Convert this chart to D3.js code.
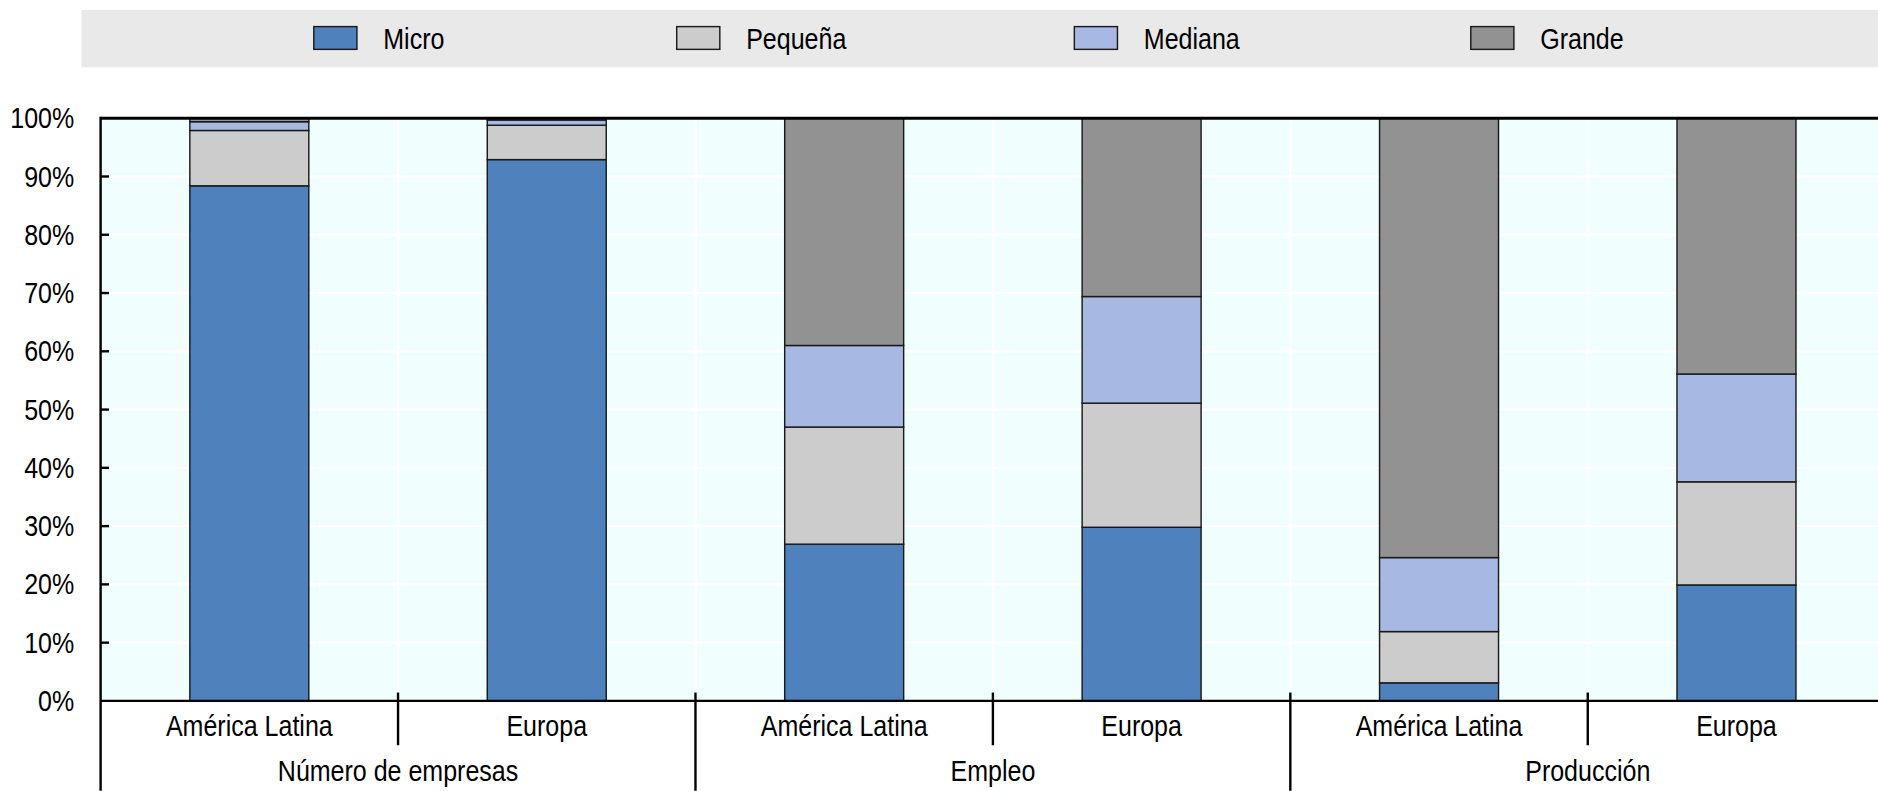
<!DOCTYPE html>
<html>
<head>
<meta charset="utf-8">
<script src="https://cdn.jsdelivr.net/npm/d3@7"></script>
<style>
  body { margin: 0; background: #fff; }
  svg text { font-family: "Liberation Sans", Arial, sans-serif; fill: #000; }
</style>
</head>
<body>
<svg id="chart"></svg>
<script>
// data
const groups = ["Número de empresas", "Empleo", "Producción"];
const regions = ["América Latina", "Europa"];
const sizes = ["Micro", "Pequeña", "Mediana", "Grande"];
const colors = ["#4f81bd", "#cccccc", "#a7b9e3", "#929292"];

// shares (%) per bar, order: group x region
const micro   = [88.4, 92.9, 26.9, 29.8,  3.1, 19.9];
const pequena = [ 9.5,  5.9, 20.1, 21.3,  8.8, 17.7];
const mediana = [ 1.5,  0.9, 14.0, 18.3, 12.7, 18.5];
const grande  = [ 0.6,  0.3, 39.0, 30.6, 75.4, 43.9];
const yTicks = [0, 10, 20, 30, 40, 50, 60, 70, 80, 90, 100];

// layout works in a 1568x660 frame scaled to the window
const W = 1568, H = 660;
const FS = 24, SQUEEZE = 0.87; // narrow-looking font: squeeze regular sans
const svg = d3.select("#chart")
    .attr("width", 1878).attr("height", 791)
    .attr("viewBox", `0 0 ${W} ${H}`);

// place a condensed text label at (px, py)
function label(sel, px, py) {
    return sel.attr("x", 0).attr("y", 0)
        .attr("font-size", FS)
        .attr("transform", (d, i) => `translate(${px(d, i)},${py(d, i)}) scale(${SQUEEZE},1)`);
}

const plot = {left: 84, right: 1574, top: 98.5, bottom: 585};

const bars = [];
groups.forEach((g, gi) => regions.forEach((r, ri) => {
    const i = gi * regions.length + ri;
    bars.push({key: i, group: g, region: r, vals: [micro[i], pequena[i], mediana[i], grande[i]]});
}));

const x = d3.scaleBand()
    .domain(bars.map(d => d.key))
    .range([plot.left, plot.right])
    .paddingInner(0.6)
    .paddingOuter(0.3);
const step = x.step();
const y = d3.scaleLinear().domain([0, 100]).range([plot.bottom, plot.top]);

// plot background + white grid
svg.append("rect")
    .attr("x", plot.left).attr("y", plot.top)
    .attr("width", plot.right - plot.left).attr("height", plot.bottom - plot.top)
    .attr("fill", "#f1fefe");

svg.append("g").selectAll("line")
    .data(yTicks.slice(1, -1))
    .join("line")
    .attr("x1", plot.left).attr("x2", plot.right)
    .attr("y1", d => y(d)).attr("y2", d => y(d))
    .attr("stroke", "#fff").attr("stroke-width", 2);

const bounds = d3.range(1, bars.length).map(i => plot.left + i * step);
svg.append("g").selectAll("line")
    .data(bounds)
    .join("line")
    .attr("x1", d => d).attr("x2", d => d)
    .attr("y1", plot.top).attr("y2", plot.bottom)
    .attr("stroke", "#fff").attr("stroke-width", 2);

// stacked bars
const stacked = bars.map(b => {
    let acc = 0;
    return b.vals.map((v, k) => {
        const seg = {key: b.key, k, y0: acc, y1: acc + v};
        acc += v;
        return seg;
    });
}).flat();

svg.append("g").selectAll("rect")
    .data(stacked)
    .join("rect")
    .attr("x", d => x(d.key))
    .attr("width", x.bandwidth())
    .attr("y", d => y(Math.min(d.y1, 100)))
    .attr("height", d => y(d.y0) - y(Math.min(d.y1, 100)))
    .attr("fill", d => colors[d.k])
    .attr("stroke", "#1a1a1a")
    .attr("stroke-width", 1.2);

// frame: top line, left axis, bottom axis
svg.append("line")
    .attr("x1", plot.left).attr("x2", plot.right)
    .attr("y1", plot.top).attr("y2", plot.top)
    .attr("stroke", "#000").attr("stroke-width", 2.4);
svg.append("line")
    .attr("x1", plot.left).attr("x2", plot.right)
    .attr("y1", plot.bottom).attr("y2", plot.bottom)
    .attr("stroke", "#000").attr("stroke-width", 2);
svg.append("line")
    .attr("x1", plot.left).attr("x2", plot.left)
    .attr("y1", plot.top - 1.2).attr("y2", H)
    .attr("stroke", "#000").attr("stroke-width", 2);

// y axis ticks + labels
const yAxis = svg.append("g");
yAxis.selectAll("line")
    .data(yTicks.slice(1, -1))
    .join("line")
    .attr("x1", plot.left).attr("x2", plot.left + 7)
    .attr("y1", d => y(d)).attr("y2", d => y(d))
    .attr("stroke", "#000").attr("stroke-width", 2);
label(yAxis.selectAll("text").data(yTicks).join("text"), () => 62, d => y(d))
    .attr("dy", "0.35em")
    .attr("text-anchor", "end")
    .text(d => d + "%");

// x axis: region ticks, group separators, labels
const xAxis = svg.append("g");
const regionTicks = bars.filter((b, i) => i % 2 === 1).map(b => plot.left + b.key * step);
xAxis.selectAll("line.sub")
    .data(regionTicks)
    .join("line")
    .attr("class", "sub")
    .attr("x1", d => d).attr("x2", d => d)
    .attr("y1", plot.bottom - 7).attr("y2", 622)
    .attr("stroke", "#000").attr("stroke-width", 2);

const groupSeps = groups.map((g, gi) => plot.left + gi * regions.length * step).slice(1)
    .concat([plot.right]);
xAxis.selectAll("line.grp")
    .data(groupSeps)
    .join("line")
    .attr("class", "grp")
    .attr("x1", d => d).attr("x2", d => d)
    .attr("y1", plot.bottom - 7).attr("y2", H)
    .attr("stroke", "#000").attr("stroke-width", 2);

label(xAxis.selectAll("text.reg").data(bars).join("text").attr("class", "reg"),
        d => x(d.key) + x.bandwidth() / 2, () => 614)
    .attr("text-anchor", "middle")
    .text(d => d.region);

label(xAxis.selectAll("text.grp").data(groups).join("text").attr("class", "grp"),
        (d, i) => plot.left + (i * regions.length + regions.length / 2) * step, () => 652)
    .attr("text-anchor", "middle")
    .text(d => d);

// legend
const legend = svg.append("g");
legend.append("rect")
    .attr("x", 68).attr("y", 8)
    .attr("width", W - 68).attr("height", 48)
    .attr("fill", "#e9e9e9");

const legendX = [262, 565, 897, 1228];
const item = legend.selectAll("g.item")
    .data(sizes)
    .join("g")
    .attr("class", "item")
    .attr("transform", (d, i) => `translate(${legendX[i]},0)`);
item.append("rect")
    .attr("x", 0).attr("y", 22)
    .attr("width", 36).attr("height", 19)
    .attr("fill", (d, i) => colors[i])
    .attr("stroke", "#1a1a1a").attr("stroke-width", 1.2);
label(item.append("text"), () => 58, () => 32)
    .attr("dy", "0.35em")
    .text(d => d);
</script>
</body>
</html>
